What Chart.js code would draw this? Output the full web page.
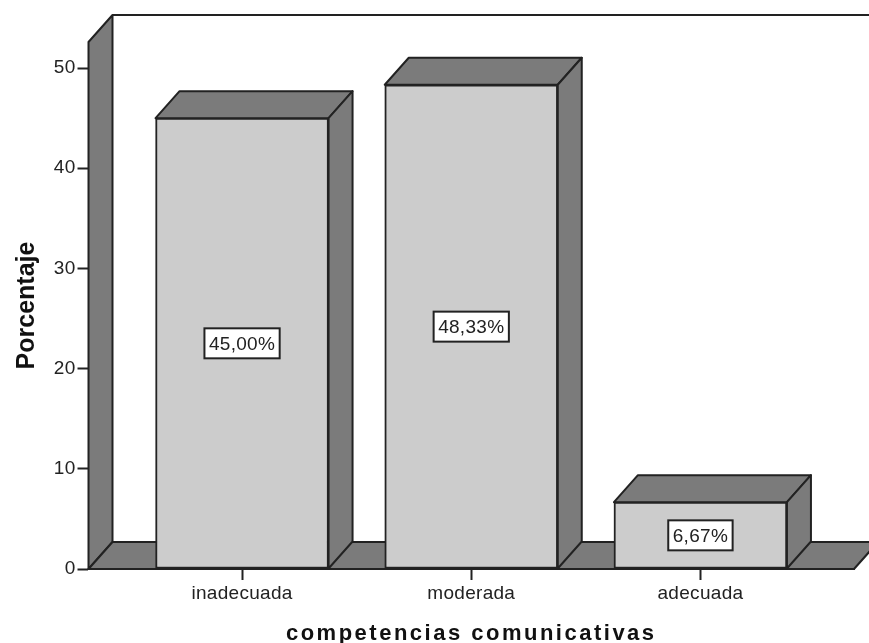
<!DOCTYPE html>
<html>
<head>
<meta charset="utf-8">
<title>competencias comunicativas</title>
<script src="https://cdn.jsdelivr.net/npm/chart.js@4"></script>
<style>
  html, body { margin: 0; padding: 0; background: #fff; }
  #wrap { width: 869px; height: 643px; }
  #chart { filter: blur(0.4px); }
</style>
</head>
<body>
<div id="wrap"><canvas id="chart" width="869" height="643"></canvas></div>
<script>
const categories = ['inadecuada', 'moderada', 'adecuada'];
const percentages = [45.00, 48.33, 6.67];
const yTicks = [0, 10, 20, 30, 40, 50];

const FRONT = '#cccccc';
const SIDE = '#7b7b7b';
const INK = '#222222';
const FONT = '"Liberation Sans", Arial, sans-serif';
const DX = 24, DY = 27; // 3D depth of the box
const TRACKING = '0.3px';

function poly(ctx, pts, fill) {
  ctx.beginPath();
  pts.forEach((p, i) => i ? ctx.lineTo(p[0], p[1]) : ctx.moveTo(p[0], p[1]));
  ctx.closePath();
  ctx.fillStyle = fill;
  ctx.fill();
  ctx.strokeStyle = INK;
  ctx.lineWidth = 2;
  ctx.lineJoin = 'round';
  ctx.stroke();
}

// the original text is set wide, so give the axis titles their own tracking
function trackTitle(scale, spacing) {
  const draw = scale.drawTitle;
  scale.drawTitle = function () {
    const ctx = this.ctx;
    ctx.letterSpacing = spacing;
    draw.call(this);
    ctx.letterSpacing = TRACKING;
  };
}

// back wall, left wall and floor, then the depth faces of each bar
const box3d = {
  id: 'box3d',
  beforeInit(chart) {
    chart.ctx.letterSpacing = TRACKING;
  },
  afterLayout(chart) {
    trackTitle(chart.scales.x, '2.5px');
    trackTitle(chart.scales.y, '0px');
  },
  beforeDatasetsDraw(chart) {
    const { ctx, chartArea: a } = chart;
    ctx.save();
    poly(ctx, [[a.left, a.top], [a.left + DX, a.top - DY], [a.left + DX, a.bottom - DY], [a.left, a.bottom]], SIDE);
    poly(ctx, [[a.left, a.bottom], [a.right, a.bottom], [a.right + DX, a.bottom - DY], [a.left + DX, a.bottom - DY]], SIDE);
    ctx.beginPath();
    ctx.moveTo(a.left + DX, a.top - DY);
    ctx.lineTo(chart.width, a.top - DY);
    ctx.strokeStyle = INK;
    ctx.lineWidth = 2;
    ctx.stroke();
    chart.getDatasetMeta(0).data.forEach(bar => {
      const l = bar.x - bar.width / 2, r = bar.x + bar.width / 2;
      poly(ctx, [[l, bar.y], [l + DX, bar.y - DY], [r + DX, bar.y - DY], [r, bar.y]], SIDE);
      poly(ctx, [[r, bar.y], [r + DX, bar.y - DY], [r + DX, bar.base - DY], [r, bar.base]], SIDE);
    });
    ctx.restore();
  },
  afterDatasetsDraw(chart) {
    const { ctx } = chart;
    ctx.save();
    ctx.font = '19px ' + FONT;
    ctx.textAlign = 'center';
    ctx.textBaseline = 'middle';
    chart.getDatasetMeta(0).data.forEach((bar, i) => {
      const text = percentages[i].toFixed(2).replace('.', ',') + '%';
      const w = ctx.measureText(text).width + 9, h = 30;
      const cy = (bar.y + bar.base) / 2;
      ctx.fillStyle = '#fff';
      ctx.fillRect(bar.x - w / 2, cy - h / 2, w, h);
      ctx.strokeStyle = INK;
      ctx.lineWidth = 2;
      ctx.strokeRect(bar.x - w / 2, cy - h / 2, w, h);
      ctx.fillStyle = INK;
      ctx.fillText(text, bar.x, cy + 1);
    });
    ctx.restore();
  }
};

new Chart(document.getElementById('chart'), {
  type: 'bar',
  data: {
    datasets: [{
      data: percentages.map((v, i) => ({ x: i, y: v })),
      backgroundColor: FRONT,
      borderColor: INK,
      borderWidth: 2,
      borderSkipped: false,
      barThickness: 173
    }]
  },
  options: {
    responsive: false,
    animation: false,
    layout: { padding: { top: 42, right: 15, left: 0, bottom: 0 } },
    plugins: { legend: { display: false }, tooltip: { enabled: false } },
    scales: {
      x: {
        type: 'linear',
        offset: false,
        min: -0.67,
        max: 2.67,
        afterBuildTicks: s => { s.ticks = categories.map((c, i) => ({ value: i })); },
        afterFit: s => { s.height = 74; },
        grid: { offset: false, drawOnChartArea: false, tickLength: 11, tickColor: INK, tickWidth: 2 },
        border: { color: INK, width: 2 },
        ticks: {
          callback: v => categories[v],
          autoSkip: false,
          maxRotation: 0,
          padding: 2,
          color: INK,
          font: { family: FONT, size: 19 }
        },
        title: {
          display: true,
          text: 'competencias comunicativas',
          color: '#111',
          font: { family: FONT, size: 22, weight: 'bold', lineHeight: 0.8 },
          padding: { top: 8, bottom: 0 }
        }
      },
      y: {
        min: 0,
        max: 52.6,
        afterBuildTicks: s => { s.ticks = yTicks.map(v => ({ value: v })); },
        afterFit: s => { s.width = 88.5; },
        grid: { drawOnChartArea: false, tickLength: 11, tickColor: INK, tickWidth: 2 },
        border: { color: INK, width: 2 },
        ticks: {
          padding: 2,
          color: INK,
          font: { family: FONT, size: 19 }
        },
        title: {
          display: true,
          text: 'Porcentaje',
          color: '#111',
          font: { family: FONT, size: 25, weight: 'bold' },
          padding: { top: 12, bottom: 0 }
        }
      }
    }
  },
  plugins: [box3d]
});
</script>
</body>
</html>
